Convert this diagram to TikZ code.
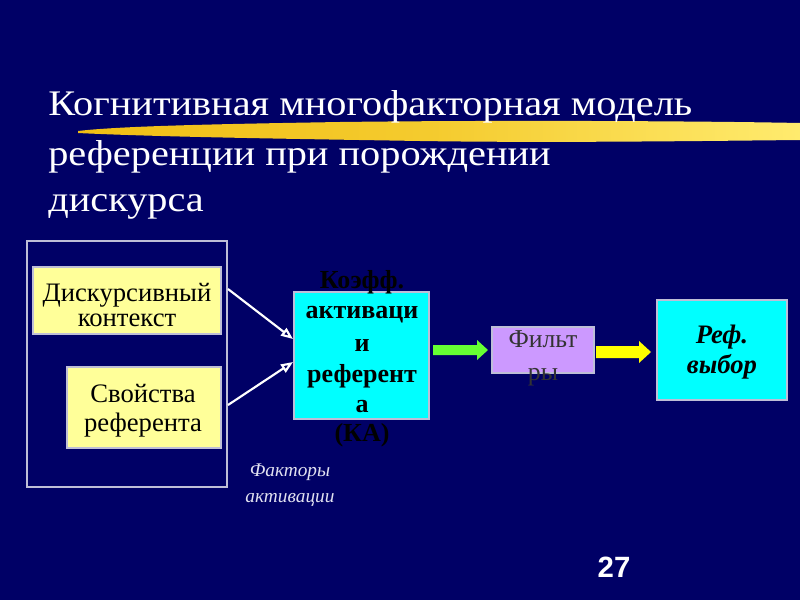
\documentclass[tikz,border=0pt]{standalone}
\usepackage{fontspec}
\setmainfont{Liberation Serif}
\newfontfamily\numfont{Liberation Sans}
\usetikzlibrary{arrows.meta}
\definecolor{bgnavy}{RGB}{0,0,102}
\definecolor{paleyellow}{RGB}{255,255,153}
\definecolor{cyanbox}{RGB}{0,255,255}
\definecolor{lilac}{RGB}{204,153,255}
\definecolor{lightgreen}{RGB}{102,255,51}
\definecolor{brightyellow}{RGB}{255,255,0}
\definecolor{brushgold}{RGB}{240,190,20}
\definecolor{brushlight}{RGB}{255,235,110}
\definecolor{framegray}{RGB}{190,190,215}
\definecolor{factorgray}{RGB}{225,225,240}
\begin{document}
\begin{tikzpicture}[x=0.75pt,y=-0.75pt,
  boxframe/.style={draw=framegray,line width=0.8pt,inner sep=0pt,anchor=center},
  ybox/.style={boxframe,fill=paleyellow},
  cbox/.style={boxframe,fill=cyanbox},
  pbox/.style={boxframe,fill=lilac},
  ttl/.style={anchor=base west,inner sep=0pt,text=white,font=\fontsize{27}{27}\selectfont},
  ytxt/.style={anchor=base,inner sep=0pt,text=black,font=\fontsize{20}{20}\selectfont},
  btxt/.style={anchor=base,inner sep=0pt,text=black,font=\fontsize{19.5}{19.5}\selectfont\bfseries},
  wire/.style={draw=white,line width=1.6pt,-{Triangle[open,length=9pt,width=7pt]}}
]
\fill[bgnavy] (0,0) rectangle (800,600);
\useasboundingbox (0,0) rectangle (800,600);
% brush stroke
\shade[left color=brushgold,right color=brushlight,middle color=brushgold!70!brushlight]
  (78,131) .. controls (120,126) and (220,124) .. (340,122)
  .. controls (500,120) and (700,121) .. (800,123)
  -- (800,140) .. controls (700,141) and (550,143) .. (420,141)
  .. controls (300,139) and (160,137) .. (78,133) -- cycle;
% title
\node[ttl] (t1) at (48,115) {\scalebox{1.12}[1]{Когнитивная многофакторная модель}};
\node[ttl] (t2) at (48,165) {\scalebox{1.12}[1]{референции при порождении}};
\node[ttl] (t3) at (48,211) {\scalebox{1.12}[1]{дискурса}};
% outer frame
\node[boxframe,minimum width=200*0.75pt,minimum height=246*0.75pt] (frame) at (127,364) {};
\node[ybox,minimum width=188*0.75pt,minimum height=67*0.75pt] (dk) at (127,300.5) {};
\node[ytxt] (dkt1) at (127,301) {Дискурсивный};
\node[ytxt] (dkt2) at (127,326) {контекст};
\node[ybox,minimum width=154*0.75pt,minimum height=81*0.75pt] (sv) at (144,407.5) {};
\node[ytxt] (svt1) at (143,402) {Свойства};
\node[ytxt] (svt2) at (143,431) {референта};
\coordinate (dkE) at (228,289);
\coordinate (svE) at (228,405);
% KA box
\node[cbox,minimum width=135*0.75pt,minimum height=127*0.75pt] (ka) at (361.5,355.5) {};
\coordinate (kaA) at (293,339);
\coordinate (kaB) at (293,362);
\node[btxt] (k1) at (362,288) {Коэфф.};
\node[btxt] (k2) at (362,318) {активаци};
\node[btxt] (k3) at (362,351) {и};
\node[btxt] (k4) at (362,382) {референт};
\node[btxt] (k5) at (362,412) {а};
\node[btxt] (k6) at (362,441) {(КА)};
\draw[wire] (dkE) -- (kaA);
\draw[wire] (svE) -- (kaB);
% green arrow
\fill[lightgreen] (433,345) -- (477,345) -- (477,340) -- (488,350) -- (477,360) -- (477,355) -- (433,355) -- cycle;
% filters
\node[pbox,minimum width=102*0.75pt,minimum height=46*0.75pt] (fl) at (543,350) {};
\node[anchor=base,inner sep=0pt,text=black!80,font=\fontsize{19.3}{19.3}\selectfont] (f1) at (543,347) {Фильт};
\node[anchor=base,inner sep=0pt,text=black!80,font=\fontsize{19.3}{19.3}\selectfont] (f2) at (543,380) {ры};
% yellow arrow
\fill[brightyellow] (596,346) -- (639,346) -- (639,341) -- (651,352) -- (639,363) -- (639,358) -- (596,358) -- cycle;
% ref choice
\node[cbox,minimum width=130*0.75pt,minimum height=100*0.75pt] (rf) at (722,350) {};
\node[btxt,font=\fontsize{20}{20}\selectfont\bfseries\itshape] (r1) at (722,343) {Реф.};
\node[btxt,font=\fontsize{20}{20}\selectfont\bfseries\itshape] (r2) at (722,373) {выбор};
% factors
\node[anchor=base,inner sep=0pt,text=factorgray,font=\fontsize{14.5}{14.5}\selectfont\itshape] (fa1) at (290,476) {Факторы};
\node[anchor=base,inner sep=0pt,text=factorgray,font=\fontsize{14.5}{14.5}\selectfont\itshape] (fa2) at (290,502) {активации};
% page number
\node[anchor=base,inner sep=0pt,text=white,font=\numfont\fontsize{22}{22}\selectfont\bfseries] (pg) at (614,577) {27};
\end{tikzpicture}
\end{document}
